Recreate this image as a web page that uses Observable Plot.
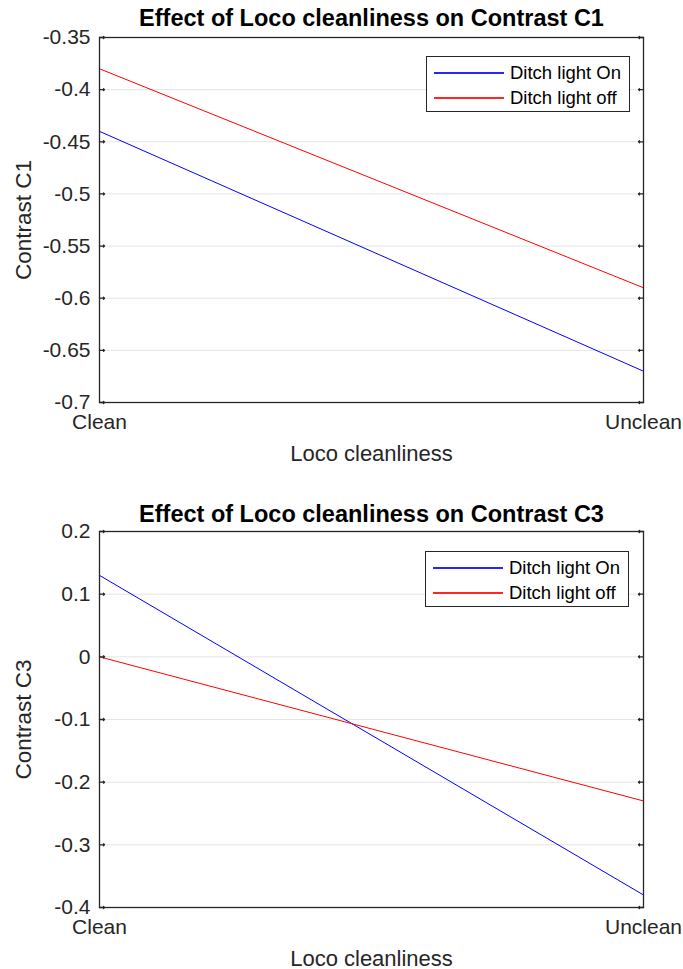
<!DOCTYPE html>
<html>
<head>
<meta charset="utf-8">
<script src="https://cdn.jsdelivr.net/npm/d3@7"></script>
<script src="https://cdn.jsdelivr.net/npm/@observablehq/plot@0.6"></script>
<style>
  body { margin: 0; background: #fff; }
  #wrap { position: relative; width: 683px; height: 969px; overflow: hidden; font-family: "Liberation Sans", Arial, sans-serif; }
  .panel { position: absolute; left: 0; }
  .legend { position: absolute; box-sizing: border-box; border: 1px solid #262626; background: #fff;
            font-size: 18.5px; line-height: 25px; color: #000; padding: 3px 0 0 7px; }
  .legend .row { position: relative; height: 25px; padding-left: 76px; white-space: nowrap; }
  .legend .swatch { position: absolute; left: 0; top: 11.5px; width: 70px; height: 2px; opacity: 0.85; }
</style>
</head>
<body>
<div id="wrap"></div>
<script>
// Loco cleanliness conditions (x axis)
const conditions = ["Clean", "Unclean"];
// Ditch light series
const series = ["Ditch light On", "Ditch light off"];
const seriesColors = ["#0000ff", "#ff0000"];

// Contrast C1 values per condition
const c1On = [-0.44, -0.67];
const c1Off = [-0.38, -0.59];
const c1Ticks = [-0.7, -0.65, -0.6, -0.55, -0.5, -0.45, -0.4, -0.35];

// Contrast C3 values per condition
const c3On = [0.13, -0.38];
const c3Off = [0, -0.23];
const c3Ticks = [-0.4, -0.3, -0.2, -0.1, 0, 0.1, 0.2];

const FONT = "'Liberation Sans', Arial, sans-serif";
const INK = "#262626";

function rows(on, off) {
  return [
    ...conditions.map((c, i) => ({condition: c, series: series[0], value: on[i]})),
    ...conditions.map((c, i) => ({condition: c, series: series[1], value: off[i]}))
  ];
}

function panel({title, yLabel, yTicks, on, off, height, marginTop, marginBottom, titleDy}) {
  return Plot.plot({
    width: 683,
    height,
    marginLeft: 99,
    marginRight: 40,
    marginTop,
    marginBottom,
    style: {fontFamily: FONT, color: INK, background: "#fff", overflow: "visible"},
    x: {type: "point", domain: conditions, padding: 0},
    y: {domain: [yTicks[0], yTicks[yTicks.length - 1]]},
    color: {domain: series, range: seriesColors},
    marks: [
      Plot.gridY(yTicks, {stroke: "#e4e4e4", strokeOpacity: 1, strokeWidth: 1}),
      Plot.line(rows(on, off), {x: "condition", y: "value", z: "series", stroke: "series", strokeWidth: 1}),
      Plot.frame({stroke: INK, strokeWidth: 1.3}),
      // inward tick marks on both vertical edges
      Plot.vector(yTicks, {y: d => d, frameAnchor: "left", rotate: 90, length: 5, anchor: "start", stroke: INK, strokeWidth: 1.3}),
      Plot.vector(yTicks, {y: d => d, frameAnchor: "right", rotate: -90, length: 5, anchor: "start", stroke: INK, strokeWidth: 1.3}),
      Plot.axisY(yTicks, {tickSize: 0, tickPadding: 9, tickFormat: d => String(d), fontSize: 21, label: null, fill: INK}),
      Plot.axisY([], {tickSize: 0, fontSize: 22.5, label: yLabel, labelAnchor: "center", labelArrow: "none", labelOffset: 84, fill: INK}),
      Plot.axisX({tickSize: 0, tickPadding: 12, fontSize: 21, label: null, fill: INK}),
      Plot.axisX([], {tickSize: 0, fontSize: 22, label: "Loco cleanliness", labelAnchor: "center", labelArrow: "none", labelOffset: 58, fill: INK}),
      Plot.text([title], {frameAnchor: "top", lineAnchor: "middle", dy: titleDy, fontSize: 23.5, fontWeight: "bold", fill: "#000"})
    ]
  });
}

function legend(left, top) {
  const box = document.createElement("div");
  box.className = "legend";
  box.style.left = left + "px";
  box.style.top = top + "px";
  box.style.width = "204px";
  box.style.height = "56px";
  series.forEach((s, i) => {
    const row = document.createElement("div");
    row.className = "row";
    const sw = document.createElement("div");
    sw.className = "swatch";
    sw.style.background = seriesColors[i];
    row.append(sw, document.createTextNode(s));
    box.append(row);
  });
  return box;
}

const wrap = document.getElementById("wrap");

const p1 = document.createElement("div");
p1.className = "panel";
p1.style.top = "0px";
p1.append(panel({
  title: "Effect of Loco cleanliness on Contrast C1",
  yLabel: "Contrast C1", yTicks: c1Ticks, on: c1On, off: c1Off,
  height: 480, marginTop: 37, marginBottom: 78, titleDy: -19
}));
p1.append(legend(426, 56));
wrap.append(p1);

const p2 = document.createElement("div");
p2.className = "panel";
p2.style.top = "480px";
p2.append(panel({
  title: "Effect of Loco cleanliness on Contrast C3",
  yLabel: "Contrast C3", yTicks: c3Ticks, on: c3On, off: c3Off,
  height: 489, marginTop: 51, marginBottom: 62, titleDy: -17
}));
p2.append(legend(425, 71));
wrap.append(p2);
</script>
</body>
</html>
